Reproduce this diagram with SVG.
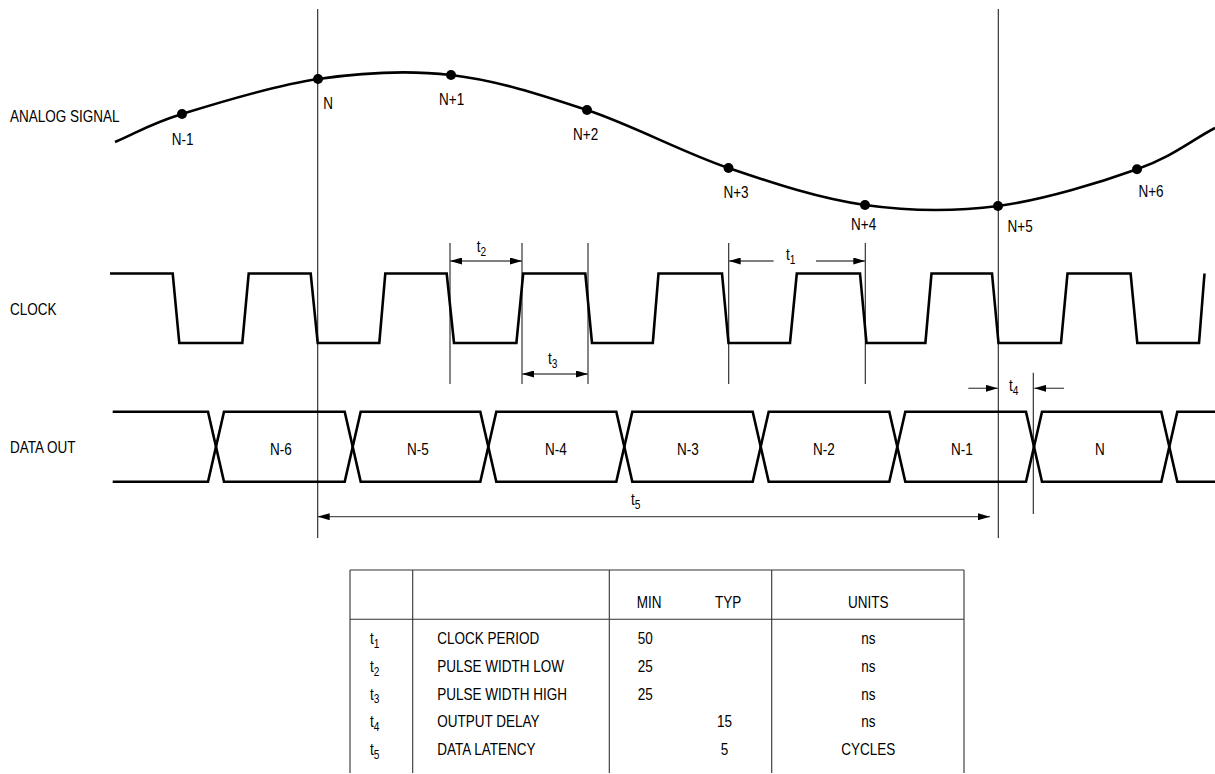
<svg xmlns="http://www.w3.org/2000/svg" width="1215" height="774" viewBox="0 0 1215 774">
<style>
text{font-family:"Liberation Sans",Arial,sans-serif;font-size:16px;fill:#000}
.sig{fill:none;stroke:#000;stroke-width:2.6;stroke-linejoin:miter}
.thin{fill:none;stroke:#222;stroke-width:1.1}
.dim{fill:none;stroke:#555;stroke-width:1.3}
.dot{fill:#000}
.tbl{fill:none;stroke:#333;stroke-width:1.1}
.sub{font-size:12px}
.mid{text-anchor:middle}
</style>
<defs>
<marker id="ah" markerUnits="userSpaceOnUse" markerWidth="12" markerHeight="7" viewBox="0 0 12 7" refX="12" refY="3.5" orient="auto-start-reverse">
<path d="M0,0 L12,3.5 L0,7 z" fill="#000"/>
</marker>
</defs>

<g id="labels">
<text transform="translate(10,122) scale(.845,1)">ANALOG SIGNAL</text>
<text transform="translate(10,315) scale(.845,1)">CLOCK</text>
<text transform="translate(10,453) scale(.845,1)">DATA OUT</text>
</g>

<g id="ref-lines">
<line class="thin" x1="317.7" y1="9" x2="317.7" y2="538"/>
<line class="thin" x1="998.3" y1="9" x2="998.3" y2="538"/>
<line class="thin" x1="450" y1="243" x2="450" y2="384"/>
<line class="thin" x1="522" y1="243" x2="522" y2="384"/>
<line class="thin" x1="588" y1="243" x2="588" y2="384"/>
<line class="thin" x1="728.7" y1="243" x2="728.7" y2="384"/>
<line class="thin" x1="865.3" y1="243" x2="865.3" y2="384"/>
<line class="thin" x1="1033.3" y1="372.7" x2="1033.3" y2="514"/>
</g>

<g id="analog-signal">
<path class="sig" d="M115,142 C137.3,132.7 148.2,124.5 182,114 C215.8,103.5 273.2,85.5 318,79 C362.8,72.5 406.2,69.8 451,75 C495.8,80.2 540.75,94.5 587,110 C633.25,125.5 682.2,152.2 728.5,168 C774.8,183.8 820.1,198.7 865,205 C909.9,211.3 952.7,211.95 998,206 C1043.3,200.05 1100.8,182.3 1137,169.3 C1173.2,156.3 1189,141.8 1215,128"/>
<g id="sample-n-1"><circle class="dot" cx="182" cy="114" r="5"/><text transform="translate(171.7,145) scale(.845,1)">N-1</text></g>
<g id="sample-n"><circle class="dot" cx="318" cy="79" r="5"/><text transform="translate(323.3,109) scale(.845,1)">N</text></g>
<g id="sample-n+1"><circle class="dot" cx="451" cy="75" r="5"/><text transform="translate(439,105) scale(.845,1)">N+1</text></g>
<g id="sample-n+2"><circle class="dot" cx="587" cy="110" r="5"/><text transform="translate(573,140) scale(.845,1)">N+2</text></g>
<g id="sample-n+3"><circle class="dot" cx="728.5" cy="168" r="5"/><text transform="translate(723.4,198) scale(.845,1)">N+3</text></g>
<g id="sample-n+4"><circle class="dot" cx="865" cy="205" r="5"/><text transform="translate(851,230) scale(.845,1)">N+4</text></g>
<g id="sample-n+5"><circle class="dot" cx="998" cy="206" r="5"/><text transform="translate(1007.5,232) scale(.845,1)">N+5</text></g>
<g id="sample-n+6"><circle class="dot" cx="1137" cy="169.3" r="5"/><text transform="translate(1138.4,197) scale(.845,1)">N+6</text></g>
</g>

<g id="clock">
<path class="sig" d="M110,273.5 H172.7 L179.3,343 H242.3 L248.7,273.5 H310.7 L317.7,343 H379.3 L385.3,273.5 H446.7 L454,343 H516.4 L523.2,273.5 H585.3 L592,343 H652.8 L658.5,273.5 H722 L728.5,343 H790 L796.8,273.5 H860 L866.5,343 H925.4 L931.5,273.5 H992 L998.5,343 H1061 L1067.5,273.5 H1130.6 L1137.3,343 H1199 L1204.5,273.5"/>
</g>

<g id="data-out">
<g id="cell-prev"><path class="sig" d="M112.7,411.7 H208 L216,446.7 L208,481.7 H112.7"/></g>
<g id="cell-n-6"><polygon class="sig" points="224,411.7 344.7,411.7 352.7,446.7 344.7,481.7 224,481.7 216,446.7"/><text class="mid" transform="translate(281,455) scale(.845,1)">N-6</text></g>
<g id="cell-n-5"><polygon class="sig" points="360.7,411.7 480.3,411.7 488.3,446.7 480.3,481.7 360.7,481.7 352.7,446.7"/><text class="mid" transform="translate(418,455) scale(.845,1)">N-5</text></g>
<g id="cell-n-4"><polygon class="sig" points="496.3,411.7 616.3,411.7 624.3,446.7 616.3,481.7 496.3,481.7 488.3,446.7"/><text class="mid" transform="translate(556,455) scale(.845,1)">N-4</text></g>
<g id="cell-n-3"><polygon class="sig" points="632.3,411.7 752.7,411.7 760.7,446.7 752.7,481.7 632.3,481.7 624.3,446.7"/><text class="mid" transform="translate(688,455) scale(.845,1)">N-3</text></g>
<g id="cell-n-2"><polygon class="sig" points="768.7,411.7 889.3,411.7 897.3,446.7 889.3,481.7 768.7,481.7 760.7,446.7"/><text class="mid" transform="translate(824,455) scale(.845,1)">N-2</text></g>
<g id="cell-n-1"><polygon class="sig" points="905.3,411.7 1026,411.7 1034,446.7 1026,481.7 905.3,481.7 897.3,446.7"/><text class="mid" transform="translate(962,455) scale(.845,1)">N-1</text></g>
<g id="cell-n"><polygon class="sig" points="1042,411.7 1161.3,411.7 1169.3,446.7 1161.3,481.7 1042,481.7 1034,446.7"/><text class="mid" transform="translate(1100,455) scale(.845,1)">N</text></g>
<g id="cell-next"><path class="sig" d="M1216,411.7 H1177.3 L1169.3,446.7 L1177.3,481.7 H1216"/></g>
</g>

<g id="connectors">
<line class="dim" x1="450" y1="261" x2="522" y2="261" marker-start="url(#ah)" marker-end="url(#ah)"/>
<line class="dim" x1="522" y1="374" x2="588" y2="374" marker-start="url(#ah)" marker-end="url(#ah)"/>
<line class="dim" x1="773.6" y1="261" x2="728.7" y2="261" marker-end="url(#ah)"/>
<line class="dim" x1="816" y1="261" x2="865.3" y2="261" marker-end="url(#ah)"/>
<line class="dim" x1="968.3" y1="388.3" x2="997.8" y2="388.3" marker-end="url(#ah)"/>
<line class="dim" x1="1064" y1="388.3" x2="1034.3" y2="388.3" marker-end="url(#ah)"/>
<line class="dim" x1="317.7" y1="516.7" x2="990" y2="516.7" marker-start="url(#ah)" marker-end="url(#ah)"/>
</g>

<g id="timing-labels">
<text transform="translate(476.7,252) scale(.845,1)">t<tspan class="sub" dy="3.5">2</tspan></text>
<text transform="translate(548,364) scale(.845,1)">t<tspan class="sub" dy="3.5">3</tspan></text>
<text transform="translate(786,260) scale(.845,1)">t<tspan class="sub" dy="3.5">1</tspan></text>
<text transform="translate(1009,391) scale(.845,1)">t<tspan class="sub" dy="3.5">4</tspan></text>
<text transform="translate(631,505) scale(.845,1)">t<tspan class="sub" dy="3.5">5</tspan></text>
</g>

<g id="table">
<path class="tbl" d="M350,570 H964 M350,619.3 H964 M350,570 V773 M412.7,570 V773 M609.3,570 V773 M771.7,570 V773 M964,570 V773"/>
<text transform="translate(636.7,607.7) scale(.845,1)">MIN</text>
<text transform="translate(715,607.7) scale(.845,1)">TYP</text>
<text class="mid" transform="translate(868.3,607.7) scale(.845,1)">UNITS</text>

<text transform="translate(370,644.3) scale(.845,1)">t<tspan class="sub" dy="3.5">1</tspan></text>
<text transform="translate(437.3,644.3) scale(.845,1)">CLOCK PERIOD</text>
<text transform="translate(637.7,644.3) scale(.845,1)">50</text>
<text class="mid" transform="translate(868.3,644.3) scale(.845,1)">ns</text>

<text transform="translate(370,672) scale(.845,1)">t<tspan class="sub" dy="3.5">2</tspan></text>
<text transform="translate(437.3,672) scale(.845,1)">PULSE WIDTH LOW</text>
<text transform="translate(637.7,672) scale(.845,1)">25</text>
<text class="mid" transform="translate(868.3,672) scale(.845,1)">ns</text>

<text transform="translate(370,699.7) scale(.845,1)">t<tspan class="sub" dy="3.5">3</tspan></text>
<text transform="translate(437.3,699.7) scale(.845,1)">PULSE WIDTH HIGH</text>
<text transform="translate(637.7,699.7) scale(.845,1)">25</text>
<text class="mid" transform="translate(868.3,699.7) scale(.845,1)">ns</text>

<text transform="translate(370,727.4) scale(.845,1)">t<tspan class="sub" dy="3.5">4</tspan></text>
<text transform="translate(437.3,727.4) scale(.845,1)">OUTPUT DELAY</text>
<text class="mid" transform="translate(724.5,727.4) scale(.845,1)">15</text>
<text class="mid" transform="translate(868.3,727.4) scale(.845,1)">ns</text>

<text transform="translate(370,755.1) scale(.845,1)">t<tspan class="sub" dy="3.5">5</tspan></text>
<text transform="translate(437.3,755.1) scale(.845,1)">DATA LATENCY</text>
<text class="mid" transform="translate(724.5,755.1) scale(.845,1)">5</text>
<text class="mid" transform="translate(868.3,755.1) scale(.845,1)">CYCLES</text>
</g>
</svg>
